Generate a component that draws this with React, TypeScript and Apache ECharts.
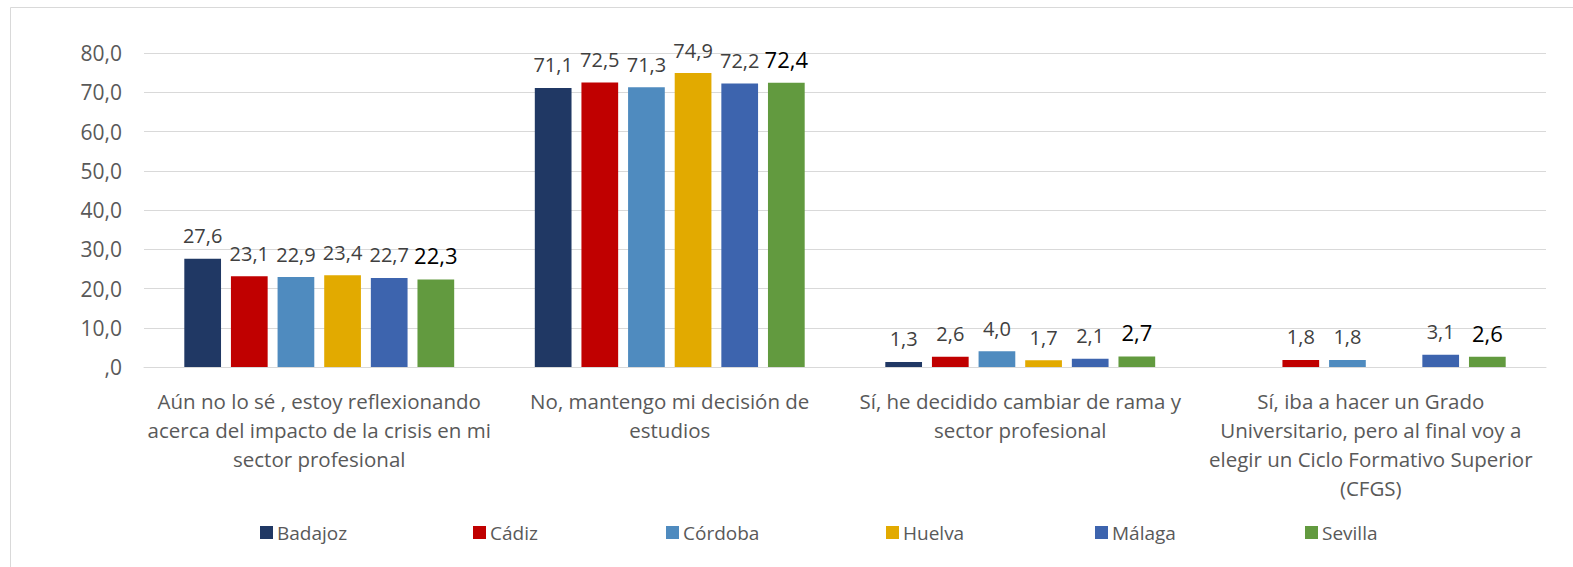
import React, { useEffect, useRef } from "react";
import * as echarts from "echarts";

const categories = [
  "Aún no lo sé , estoy reflexionando\nacerca del impacto de la crisis en mi\nsector profesional",
  "No, mantengo mi decisión de\nestudios",
  "Sí, he decidido cambiar de rama y\nsector profesional",
  "Sí, iba a hacer un Grado\nUniversitario, pero al final voy a\nelegir un Ciclo Formativo Superior\n(CFGS)",
];

const seriesNames = ["Badajoz", "Cádiz", "Córdoba", "Huelva", "Málaga", "Sevilla"];

const badajoz = [27.6, 71.1, 1.3, null];
const cadiz = [23.1, 72.5, 2.6, 1.8];
const cordoba = [22.9, 71.3, 4.0, 1.8];
const huelva = [23.4, 74.9, 1.7, null];
const malaga = [22.7, 72.2, 2.1, 3.1];
const sevilla = [22.3, 72.4, 2.7, 2.6];

const seriesValues = [badajoz, cadiz, cordoba, huelva, malaga, sevilla];
const colors = ["#203864", "#C00000", "#4F8BBF", "#E2AA00", "#3D64AE", "#629A3F"];
const legendLefts = [255, 468, 661, 881, 1090, 1300];

const FONT = "Open Sans";
const fmt = (v: number) => (v === 0 ? ",0" : v.toFixed(1).replace(".", ","));

export default function App() {
  const ref = useRef<HTMLDivElement>(null);
  useEffect(() => {
    if (!ref.current) return;
    const chart = echarts.init(ref.current, undefined, { renderer: "svg" });
    const series = seriesNames.map((name, i) => ({
      name,
      type: "bar",
      data: seriesValues[i].map((v) => (v === null ? "-" : v)),
      itemStyle: { color: colors[i] },
      barGap: "27%",
      barCategoryGap: "23%",
      label: {
        show: true,
        position: "top",
        distance: 13,
        fontFamily: FONT,
        fontSize: i === 5 ? 22 : 20,
        color: i === 5 ? "#000000" : "#404040",
        formatter: (p: any) => fmt(p.value),
      },
    }));
    chart.setOption({
      animation: false,
      backgroundColor: "#ffffff",
      textStyle: { fontFamily: FONT },
      grid: { left: 144, right: 27, top: 53, bottom: 200, containLabel: false },
      legend: seriesNames.map((name, i) => ({
        data: [name],
        left: legendLefts[i],
        top: 518,
        icon: "rect",
        itemWidth: 13,
        itemHeight: 13,
        itemGap: 6,
        textStyle: { fontFamily: FONT, fontSize: 19, color: "#595959", padding: [0, 0, 0, -1] },
        selectedMode: false,
      })),
      xAxis: {
        type: "category",
        data: categories,
        axisLine: { show: true, lineStyle: { color: "#d9d9d9", width: 1 } },
        axisTick: { show: false },
        axisLabel: {
          interval: 0,
          margin: 19,
          fontFamily: FONT,
          fontSize: 20.5,
          lineHeight: 29,
          color: "#595959",
          align: "center",
        },
      },
      yAxis: {
        type: "value",
        min: 0,
        max: 80,
        interval: 10,
        axisLine: { show: false },
        axisTick: { show: false },
        splitLine: { lineStyle: { color: "#d9d9d9", width: 1 } },
        axisLabel: {
          margin: 22,
          fontFamily: FONT,
          fontSize: 21,
          color: "#595959",
          formatter: (v: number) => fmt(v),
        },
      },
      graphic: [
        {
          type: "polyline",
          shape: { points: [[10.5, 567], [10.5, 7.5], [1573, 7.5]] },
          style: { stroke: "#d9d9d9", lineWidth: 1, fill: "none" },
          silent: true,
        },
      ],
      series,
    });
    return () => chart.dispose();
  }, []);
  return (
    <div
      ref={ref}
      style={{ position: "absolute", left: 0, top: 0, width: 1573, height: 567 }}
    />
  );
}
